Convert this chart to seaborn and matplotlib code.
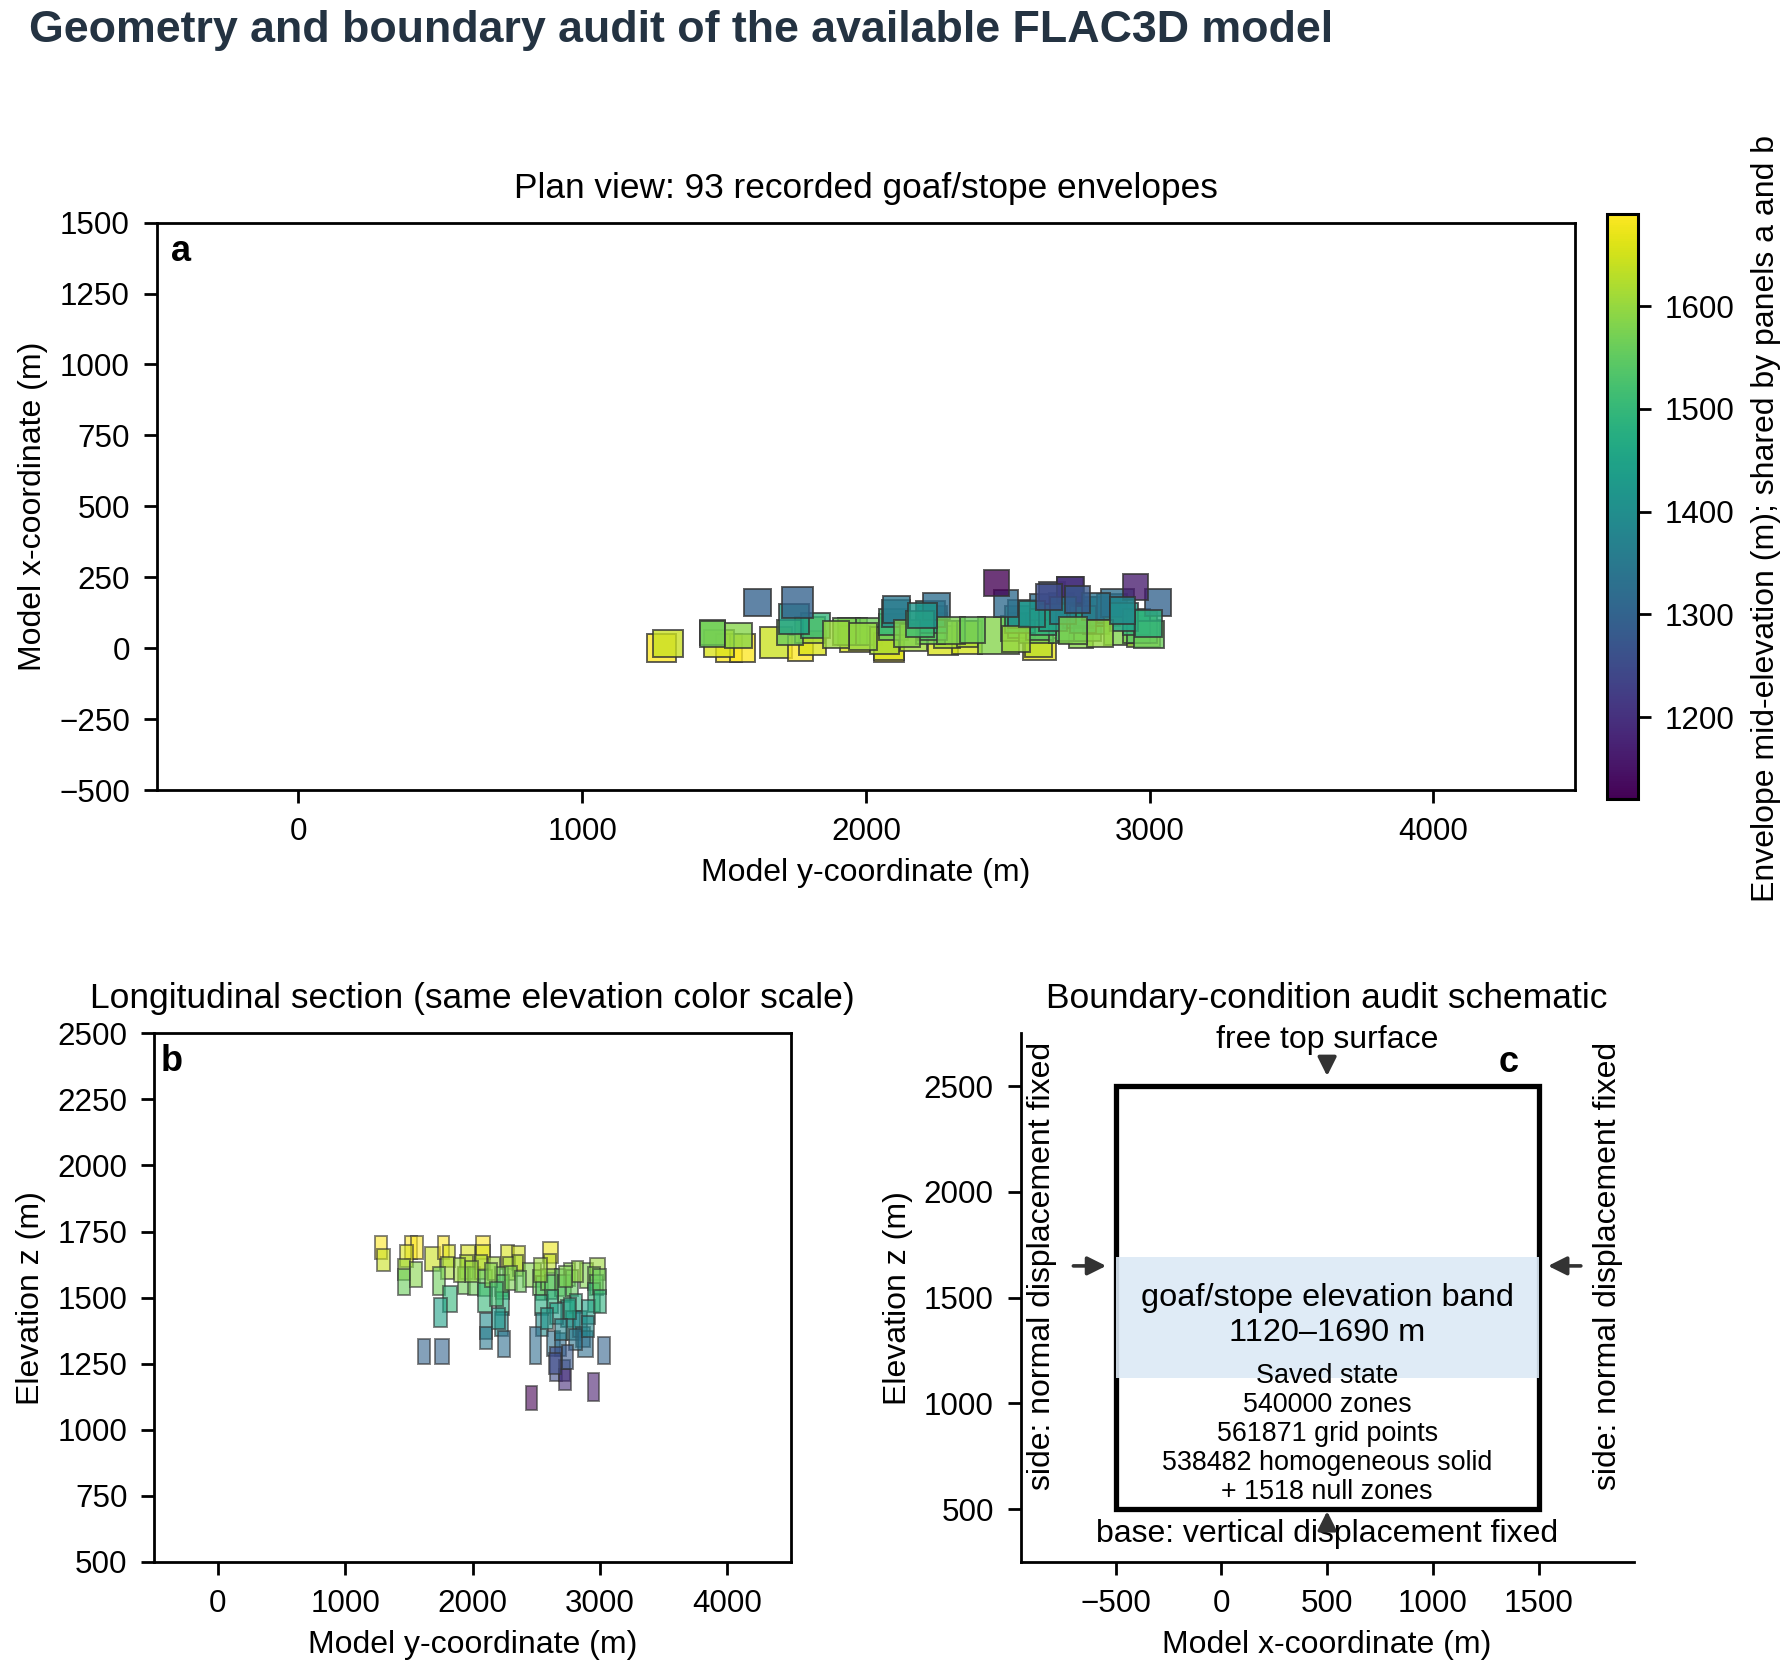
import numpy as np
import matplotlib
matplotlib.use("Agg")
import matplotlib.pyplot as plt
import seaborn as sns
from matplotlib.colors import Normalize
from matplotlib.cm import ScalarMappable
from matplotlib.patches import Rectangle

sns.set_theme(style="ticks")
plt.rcParams["font.family"] = ["Liberation Sans", "DejaVu Sans"]
plt.rcParams.update({
    "axes.edgecolor": "black",
    "axes.linewidth": 1.0,
    "text.color": "black",
    "axes.labelcolor": "black",
    "xtick.color": "black",
    "ytick.color": "black",
    "xtick.major.size": 4.8,
    "ytick.major.size": 4.8,
    "xtick.major.width": 1.0,
    "ytick.major.width": 1.0,
    "xtick.major.pad": 4.8,
    "ytick.major.pad": 4.8,
    "xtick.labelsize": 11.3,
    "ytick.labelsize": 11.3,
    "axes.labelsize": 11.5,
})

y_min = [1230, 1250, 1470, 1520, 1430, 1415, 1415, 1505, 1625, 1725, 1765, 1750, 1685, 1770, 1695,
         1570, 1705, 1910, 1900, 1885, 1965, 2030, 2030, 2015, 2045, 2045, 2055, 2060, 2120, 2220,
         2305, 2240, 2175, 2185, 2185, 2175, 2200, 2320, 2555, 2560, 2395, 2475, 2500, 2540, 2565,
         2490, 2500, 2450, 2415, 2580, 2645, 2715, 2670, 2735, 2765, 2695, 2735, 2645, 2610, 2675,
         2675, 2790, 2815, 2830, 2840, 2920, 2905, 2920, 2905, 2985, 2905, 2945, 2100, 2250, 2140,
         2580, 2610, 2720, 2650, 2760, 2700, 2860, 2950, 2480, 2330, 1940, 1850, 2780, 2680, 2540,
         2860, 2600, 2150]
y_max = [1330, 1355, 1565, 1610, 1535, 1505, 1505, 1600, 1740, 1815, 1860, 1855, 1780, 1875, 1800,
         1665, 1815, 2015, 2005, 1980, 2055, 2135, 2135, 2115, 2150, 2150, 2155, 2155, 2215, 2325,
         2410, 2330, 2280, 2285, 2285, 2280, 2295, 2395, 2670, 2655, 2540, 2565, 2595, 2660, 2660,
         2595, 2595, 2535, 2505, 2685, 2725, 2800, 2775, 2830, 2855, 2800, 2840, 2735, 2700, 2765,
         2770, 2895, 2920, 2945, 2945, 3035, 3000, 3025, 3000, 3075, 2995, 3050, 2190, 2350, 2240,
         2670, 2710, 2810, 2740, 2860, 2790, 2960, 3045, 2580, 2420, 2040, 1940, 2870, 2780, 2630,
         2950, 2690, 2250]
x_min = [-50, -30, -50, -50, -30, 10, 5, 0, -35, -45, -25, 20, 10, 35, 50,
         115, 105, -15, 10, 10, 10, -50, -40, -20, 30, 45, 75, 90, -10, -25,
         -20, 0, 15, 30, 55, 75, 100, 5, -40, -30, -20, 25, 35, 20, 30,
         55, 70, 110, 185, 100, 20, 0, 25, 25, 50, 70, 80, 100, 140, 155,
         160, 80, 90, 110, 10, 5, 20, 20, 45, 115, 170, 0, 5, 15, 40,
         45, 60, 55, 85, 100, 125, 60, 40, -15, 20, -5, 0, 5, 15, 75,
         85, 135, 70]
x_max = [50, 65, 50, 50, 65, 100, 95, 90, 75, 45, 60, 110, 100, 125, 155,
         210, 215, 80, 105, 105, 105, 45, 55, 75, 120, 140, 170, 185, 85, 80,
         95, 95, 110, 125, 150, 165, 195, 95, 35, 60, 110, 115, 125, 120, 125,
         150, 170, 205, 275, 190, 110, 95, 120, 115, 145, 165, 180, 195, 235, 250,
         250, 180, 190, 210, 110, 100, 115, 130, 140, 210, 260, 95, 100, 110, 130,
         140, 155, 150, 180, 195, 220, 160, 135, 80, 110, 90, 95, 100, 110, 165,
         180, 225, 160]
z_min = [1645, 1600, 1645, 1645, 1615, 1565, 1510, 1540, 1600, 1645, 1615, 1570, 1510, 1445, 1390,
         1250, 1250, 1610, 1570, 1515, 1510, 1645, 1610, 1570, 1505, 1445, 1345, 1305, 1565, 1610,
         1605, 1565, 1505, 1495, 1435, 1355, 1275, 1580, 1630, 1595, 1540, 1510, 1490, 1530, 1495,
         1435, 1355, 1250, 1075, 1280, 1505, 1545, 1485, 1505, 1440, 1390, 1340, 1280, 1185, 1185,
         1150, 1350, 1315, 1275, 1535, 1565, 1530, 1510, 1445, 1250, 1110, 1515, 1540, 1530, 1470,
         1440, 1400, 1420, 1340, 1300, 1230, 1400, 1440, 1560, 1520, 1560, 1560, 1560, 1540, 1380,
         1350, 1210, 1380]
z_max = [1735, 1685, 1735, 1735, 1700, 1645, 1610, 1635, 1690, 1735, 1700, 1655, 1615, 1545, 1500,
         1345, 1345, 1700, 1660, 1615, 1615, 1735, 1700, 1660, 1605, 1555, 1440, 1390, 1655, 1700,
         1695, 1655, 1615, 1585, 1520, 1445, 1375, 1660, 1710, 1665, 1630, 1605, 1580, 1610, 1585,
         1510, 1440, 1390, 1165, 1375, 1610, 1630, 1585, 1605, 1515, 1490, 1450, 1365, 1315, 1265,
         1230, 1450, 1390, 1375, 1630, 1650, 1615, 1585, 1555, 1350, 1215, 1610, 1630, 1620, 1560,
         1530, 1480, 1500, 1420, 1380, 1320, 1490, 1530, 1650, 1600, 1640, 1650, 1640, 1620, 1460,
         1430, 1290, 1460]

band_lo, band_hi = 1120, 1690          # goaf/stope elevation band (m)
model_x = (-500, 1500)                 # model extent in x (m)
model_z = (500, 2500)                  # model extent in z (m)
side_arrow_z = 1650
saved_state = ["Saved state", "540000 zones", "561871 grid points",
               "538482 homogeneous solid", "+ 1518 null zones"]

y_min, y_max = np.array(y_min), np.array(y_max)
x_min, x_max = np.array(x_min), np.array(x_max)
z_min, z_max = np.array(z_min), np.array(z_max)
z_mid = (z_min + z_max) / 2

cmap = sns.color_palette("viridis", as_cmap=True)
norm = Normalize(vmin=band_lo, vmax=band_hi)
colors = cmap(norm(z_mid))
edge = (0.2, 0.2, 0.2, 0.7)

fig = plt.figure(figsize=(8.95, 8.375), dpi=200)
fig.text(0.016, 0.982, "Geometry and boundary audit of the available FLAC3D model",
         ha="left", va="center", fontsize=16.1, fontweight="bold", color="#243342")

# a: plan view
ax_a = fig.add_axes([0.0861, 0.5283, 0.7953, 0.3388])
ax_a.bar(y_min, x_max - x_min, width=y_max - y_min, bottom=x_min, align="edge",
         color=colors, alpha=0.78, edgecolor=edge, linewidth=0.7)
ax_a.set_xlim(-500, 4500)
ax_a.set_ylim(-500, 1500)
ax_a.set_aspect("equal")
ax_a.set_xticks([0, 1000, 2000, 3000, 4000])
ax_a.set_yticks(np.arange(-500, 1501, 250))
ax_a.set_xlabel("Model y-coordinate (m)")
ax_a.set_ylabel("Model x-coordinate (m)")
ax_a.set_title(f"Plan view: {len(y_min)} recorded goaf/stope envelopes", fontsize=12.7, pad=9)
ax_a.text(0.01, 0.98, "a", transform=ax_a.transAxes, ha="left", va="top",
          fontsize=13, fontweight="bold")

cax = fig.add_axes([0.898, 0.5228, 0.0172, 0.3497])
cb = fig.colorbar(ScalarMappable(norm=norm, cmap=cmap), cax=cax)
cb.set_ticks([1200, 1300, 1400, 1500, 1600])
cb.outline.set_linewidth(1.1)
cb.outline.set_edgecolor("black")
cb.set_label("Envelope mid-elevation (m); shared by panels a and b", fontsize=11.5, labelpad=6)
cax.yaxis.label.set_y(0.48)

# b: longitudinal section
ax_b = fig.add_axes([0.0861, 0.0675, 0.3559, 0.3156])
ax_b.bar(y_min, z_max - z_min, width=y_max - y_min, bottom=z_min, align="edge",
         color=colors, alpha=0.6, edgecolor=edge, linewidth=0.7)
ax_b.set_xlim(-500, 4500)
ax_b.set_ylim(500, 2500)
ax_b.set_xticks([0, 1000, 2000, 3000, 4000])
ax_b.set_yticks(np.arange(500, 2501, 250))
ax_b.set_xlabel("Model y-coordinate (m)")
ax_b.set_ylabel("Elevation z (m)")
ax_b.set_title("Longitudinal section (same elevation color scale)", fontsize=12.75, pad=9)
ax_b.text(0.01, 0.98, "b", transform=ax_b.transAxes, ha="left", va="top",
          fontsize=13, fontweight="bold")

# c: boundary-condition schematic
ax_c = fig.add_axes([0.5695, 0.0675, 0.3438, 0.3156])
ax_c.set_xlim(-950, 1950)
ax_c.set_ylim(250, 2750)
ax_c.set_aspect("equal")
sns.despine(ax=ax_c)
x0, x1 = model_x
z0, z1 = model_z
xc = (x0 + x1) / 2
ax_c.add_patch(Rectangle((x0, z0), x1 - x0, z1 - z0, fill=False,
                         edgecolor="black", linewidth=1.9, zorder=2))
ax_c.add_patch(Rectangle((x0, band_lo), x1 - x0, band_hi - band_lo,
                         facecolor="#dce9f5", edgecolor="none", alpha=0.9, zorder=3))
ax_c.text(xc, (band_lo + band_hi) / 2 + 10,
          f"goaf/stope elevation band\n{band_lo}\u2013{band_hi} m",
          ha="center", va="center", fontsize=11.7, zorder=4)
ax_c.text(xc, 855, "\n".join(saved_state), ha="center", va="center",
          fontsize=9.7, linespacing=1.16, zorder=4)

arrow_kw = dict(arrowstyle="-|>", color="#333333", lw=1.3, mutation_scale=14,
                shrinkA=0, shrinkB=0)
ax_c.text(xc, 2720, "free top surface", ha="center", va="center", fontsize=11.5)
ax_c.annotate("", xy=(xc, 2548), xytext=(xc, 2622), arrowprops=arrow_kw, zorder=5)
ax_c.text(xc, 380, "base: vertical displacement fixed", ha="center", va="center", fontsize=11.5)
ax_c.annotate("", xy=(xc, 490), xytext=(xc, 416), arrowprops=arrow_kw, zorder=5)
ax_c.annotate("", xy=(x0 - 45, side_arrow_z), xytext=(x0 - 200, side_arrow_z),
              arrowprops=arrow_kw, zorder=5)
ax_c.annotate("", xy=(x1 + 45, side_arrow_z), xytext=(x1 + 200, side_arrow_z),
              arrowprops=arrow_kw, zorder=5)
ax_c.text(-850, side_arrow_z, "side: normal displacement fixed", rotation=90,
          ha="center", va="center", fontsize=11.5)
ax_c.text(1830, side_arrow_z, "side: normal displacement fixed", rotation=90,
          ha="center", va="center", fontsize=11.5)
ax_c.text(1360, 2612, "c", ha="center", va="center", fontsize=13, fontweight="bold")
ax_c.set_xticks([-500, 0, 500, 1000, 1500])
ax_c.set_yticks([500, 1000, 1500, 2000, 2500])
ax_c.set_xlabel("Model x-coordinate (m)")
ax_c.set_ylabel("Elevation z (m)")
ax_c.set_title("Boundary-condition audit schematic", fontsize=12.75, pad=9)

fig.savefig("out.png", dpi=200)
